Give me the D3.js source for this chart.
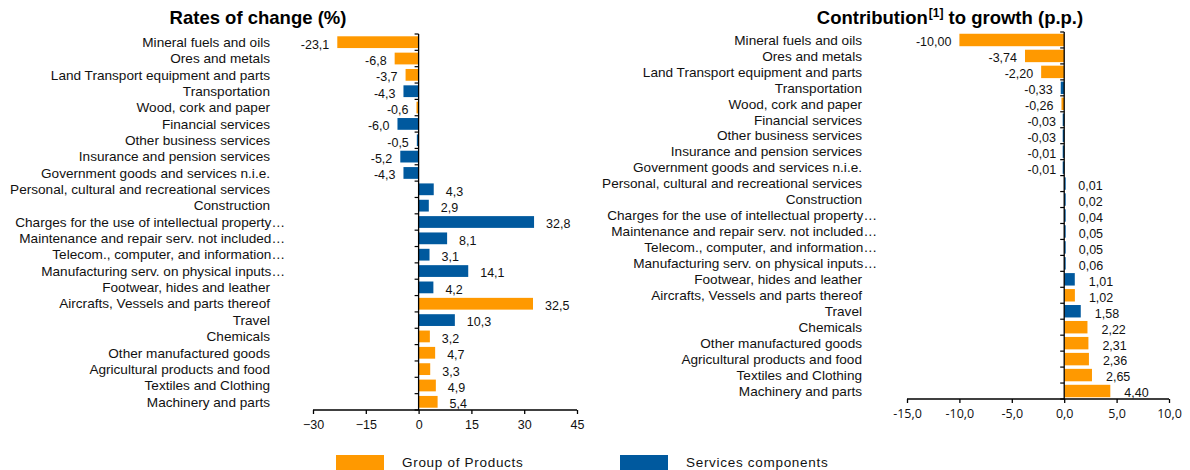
<!DOCTYPE html>
<html>
<head>
<meta charset="utf-8">
<script src="https://cdn.jsdelivr.net/npm/d3@7"></script>
<style>
  body { margin: 0; background: #fff; }
  svg { font-family: "Liberation Sans", Arial, sans-serif; }
</style>
</head>
<body>
<svg id="chart" width="1190" height="470"></svg>
<script>
// categories, top to bottom
const categories = [
  "Mineral fuels and oils",
  "Ores and metals ",
  "Land Transport equipment and parts",
  "Transportation",
  "Wood, cork and paper",
  "Financial services",
  "Other business services",
  "Insurance and pension services",
  "Government goods and services n.i.e.",
  "Personal, cultural and recreational services",
  "Construction",
  "Charges for the use of intellectual property…",
  "Maintenance and repair serv. not included…",
  "Telecom., computer, and information…",
  "Manufacturing serv. on physical inputs…",
  "Footwear, hides and leather",
  "Aircrafts, Vessels and parts thereof",
  "Travel",
  "Chemicals",
  "Other manufactured goods",
  "Agricultural products and food",
  "Textiles and Clothing ",
  "Machinery and parts"
];

// P = group of products, S = services components
const groups = ["P","P","P","S","P","S","S","S","S","S","S","S","S","S","S","S","P","S","P","P","P","P","P"];

const ratesOfChange = [-23.1, -6.8, -3.7, -4.3, -0.6, -6.0, -0.5, -5.2, -4.3, 4.3, 2.9, 32.8, 8.1, 3.1, 14.1, 4.2, 32.5, 10.3, 3.2, 4.7, 3.3, 4.9, 5.4];

const contributions = [-10.00, -3.74, -2.20, -0.33, -0.26, -0.03, -0.03, -0.01, -0.01, 0.01, 0.02, 0.04, 0.05, 0.05, 0.06, 1.01, 1.02, 1.58, 2.22, 2.31, 2.36, 2.65, 4.40];

const ratesTicks = [-30, -15, 0, 15, 30, 45];
const contribTicks = [-15, -10, -5, 0, 5, 10];

const legendItems = [
  {key: "P", label: "Group of Products"},
  {key: "S", label: "Services components"}
];

const colors = {P: "#FF9900", S: "#00599E"};

const svg = d3.select("#chart");

function commaFmt(digits){
  return v => d3.format("." + digits + "f")(v).replace("−", "-").replace(".", ",");
}

function plot_panel(cfg){
  let g = svg.append("g");
  let rows = categories.map((c, i) => ({cat: c, grp: groups[i], val: cfg.values[i]}));

  let x = d3.scaleLinear().domain(cfg.domain).range(cfg.xRange);
  let y = d3.scaleBand().domain(categories).range(cfg.yRange).paddingInner(cfg.padding).paddingOuter(cfg.padding / 2);
  let step = y.step();

  // bars (very small values still get a hairline, as Excel draws them)
  g.selectAll("rect.bar").data(rows).enter().append("rect")
    .attr("class", "bar")
    .attr("x", d => {
      let w = Math.abs(x(d.val) - x(0));
      return d.val < 0 ? x(0) - Math.max(1.5, w) : x(0);
    })
    .attr("y", d => y(d.cat))
    .attr("width", d => Math.max(1.5, Math.abs(x(d.val) - x(0))))
    .attr("height", y.bandwidth())
    .attr("fill", d => colors[d.grp]);

  // value labels
  let fmt = commaFmt(cfg.digits);
  g.selectAll("text.val").data(rows).enter().append("text")
    .attr("class", "val")
    .attr("x", d => d.val < 0 ? Math.min(x(0), x(d.val)) - cfg.negGap : Math.max(x(0), x(d.val)) + cfg.posGap)
    .attr("y", d => y(d.cat) + y.bandwidth() / 2 + 2)
    .attr("dy", "0.35em")
    .attr("text-anchor", d => d.val < 0 ? "end" : "start")
    .attr("font-size", 12.5)
    .attr("fill", "#111")
    .text(d => fmt(d.val));

  // category labels
  g.selectAll("text.cat").data(rows).enter().append("text")
    .attr("class", "cat")
    .attr("x", d => d.cat.endsWith("…") ? cfg.labelEnd + 15 : cfg.labelEnd)
    .attr("y", d => y(d.cat) + y.bandwidth() / 2)
    .attr("dy", "0.35em")
    .attr("text-anchor", "end")
    .attr("font-size", 13.6)
    .attr("letter-spacing", 0)
    .attr("fill", "#111")
    .text(d => d.cat);

  // value axis
  let xAxis = d3.axisBottom(x).tickValues(cfg.ticks).tickSize(4).tickPadding(6)
    .tickFormat(cfg.tickFmt);
  let ax = g.append("g").attr("transform", "translate(0," + cfg.yRange[1] + ")").call(xAxis);
  ax.select(".domain").attr("stroke", "#000").attr("stroke-width", 1.3).attr("d", "M" + cfg.xRange[0] + ",0H" + cfg.xRange[1]);
  ax.selectAll(".tick line").attr("stroke", "#000").attr("stroke-width", 1.3);
  ax.selectAll(".tick text").attr("font-size", 12.5).attr("fill", "#111")
    .attr("font-family", cfg.tickFont);

  // category axis at zero
  let zx = x(0);
  g.append("line")
    .attr("x1", zx).attr("x2", zx)
    .attr("y1", cfg.yRange[0]).attr("y2", cfg.yRange[1])
    .attr("stroke", "#000").attr("stroke-width", 1.3);
  let bounds = d3.range(categories.length + 1).map(i => cfg.yRange[0] + i * step);
  g.selectAll("line.ctick").data(bounds).enter().append("line")
    .attr("class", "ctick")
    .attr("x1", zx - 4).attr("x2", zx)
    .attr("y1", d => d).attr("y2", d => d)
    .attr("stroke", "#000").attr("stroke-width", 1.2);

  // title
  let t = g.append("text")
    .attr("x", cfg.titleX).attr("y", 24)
    .attr("text-anchor", "middle")
    .attr("font-size", 18.5)
    .attr("font-weight", "bold")
    .attr("fill", "#000");
  cfg.title.forEach(part => {
    let ts = t.append("tspan").text(part.text);
    if(part.sup){
      ts.attr("font-size", 12).attr("baseline-shift", "super").attr("dx", 1);
    }
  });
}

plot_panel({
  values: ratesOfChange,
  domain: [-30, 45],
  xRange: [313, 577],
  yRange: [34, 410],
  padding: 0.28,
  labelEnd: 270,
  digits: 1,
  negGap: 8,
  posGap: 12,
  ticks: ratesTicks,
  tickFmt: d3.format("d"),
  tickFont: "Liberation Sans, Arial, sans-serif",
  titleX: 258,
  title: [{text: "Rates of change (%)"}]
});

plot_panel({
  values: contributions,
  domain: [-15, 10],
  xRange: [907, 1169],
  yRange: [32, 399],
  padding: 0.22,
  labelEnd: 862,
  digits: 2,
  negGap: 8,
  posGap: 14,
  ticks: contribTicks,
  tickFmt: v => commaFmt(1)(v),
  tickFont: "Open Sans, sans-serif",
  titleX: 950,
  title: [{text: "Contribution"}, {text: "[1]", sup: true}, {text: "  to growth (p.p.)"}]
});

// legend
let lg = svg.append("g").attr("transform", "translate(336,455)");
let li = lg.selectAll("g").data(legendItems).enter().append("g")
  .attr("transform", (d, i) => "translate(" + (i * 284) + ",0)");
li.append("rect").attr("width", 48).attr("height", 15).attr("fill", d => colors[d.key]);
li.append("text").attr("x", 66).attr("y", 7.5).attr("dy", "0.35em")
  .attr("font-size", 13.5).attr("letter-spacing", 0.7).attr("fill", "#111")
  .text(d => d.label);
</script>
</body>
</html>
